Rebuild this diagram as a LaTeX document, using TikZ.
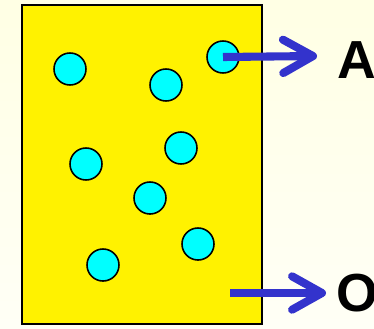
\documentclass[tikz,border=0pt]{standalone}
\usepackage{fontspec}
\setmainfont{Liberation Sans}
\usetikzlibrary{arrows.meta}
\definecolor{paper}{RGB}{255, 255, 228}
\definecolor{paperlow}{RGB}{255, 255, 246}
\definecolor{particle}{RGB}{0, 255, 255}
\definecolor{arrowblue}{RGB}{51, 51, 204}

\begin{document}
\begin{tikzpicture}[
    x=0.02cm, y=-0.02cm,
    particle/.style={circle, draw=black, line width=0.9pt, fill=particle, minimum size=32*0.02cm, inner sep=0pt},
    outarrow/.style={draw=arrowblue, line width=4.6pt, -{Straight Barb[length=17pt, width=19pt, round]}},
    label/.style={font=\bfseries\fontsize{30.5pt}{33pt}\selectfont, inner sep=0pt, anchor=base west}
]
% page and box
\shade[top color=paper, bottom color=paperlow] (0,0) rectangle (374,328);
\useasboundingbox (0,0) rectangle (374,328);
\draw[fill=yellow, line width=1.2pt] (22,5) rectangle (262,324);

% particles
\node[particle] (c1) at (70,69) {};
\node[particle] (c2) at (166,85) {};
\node[particle] (c3) at (223,57) {};
\node[particle] (c4) at (86,164) {};
\node[particle] (c5) at (181,148) {};
\node[particle] (c6) at (150,198) {};
\node[particle] (c7) at (198,244) {};
\node[particle] (c8) at (103,265) {};

% outputs
\node[label] (A) at (337,78) {A};
\node[label] (O) at (336,311) {O};
\coordinate (a1) at (317,56);
\coordinate (o0) at (230,293);
\coordinate (o1) at (326,293);

\draw[outarrow] (c3.center) -- (a1);
\draw[outarrow] (o0) -- (o1);
\end{tikzpicture}
\end{document}
